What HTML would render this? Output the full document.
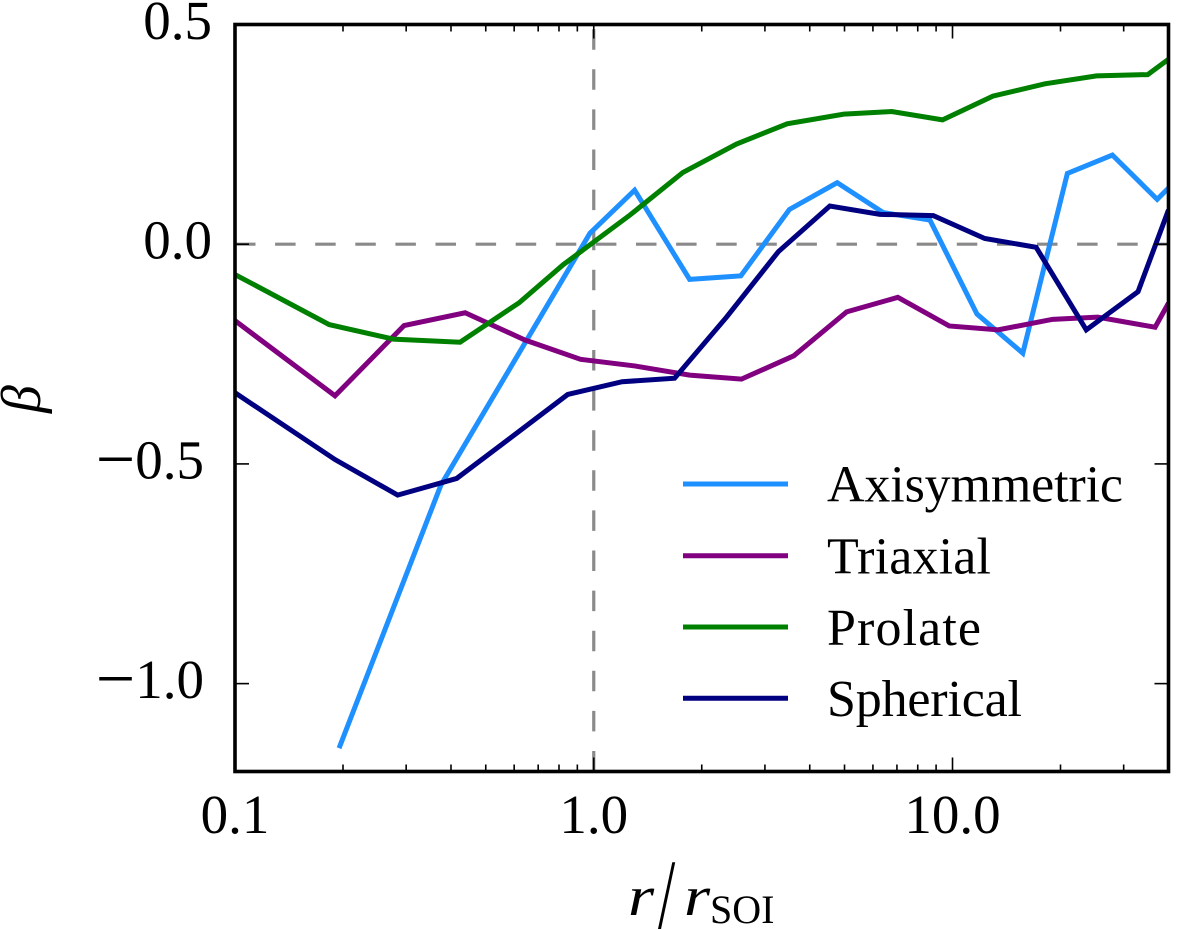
<!DOCTYPE html>
<html>
<head>
<meta charset="utf-8">
<title>Velocity anisotropy profile</title>
<style>
html,body{margin:0;padding:0;background:#fff;width:1200px;height:930px;overflow:hidden}
svg{display:block}
text{font-family:"Liberation Serif",serif;fill:#000}
</style>
</head>
<body>
<svg id="chart" xmlns="http://www.w3.org/2000/svg" width="1200" height="930" viewBox="0 0 1200 930"></svg>
<script>
const xMajorTicks = [0.1, 1, 10];
const xMajorLabels = ["0.1", "1.0", "10.0"];
const yTicks = [-1, -0.5, 0, 0.5];
const yLabels = ["1.0", "0.5", "0.0", "0.5"];
const xDomain = [0.1, 40];
const yDomain = [-1.2, 0.5];

const axisymmetricR = [0.195,0.375,0.976,1.30,1.85,2.57,3.51,4.77,6.41,8.65,11.7,15.7,20.9,27.9,37.2,40];
const axisymmetricBeta = [-1.147,-0.548,0.025,0.123,-0.080,-0.072,0.079,0.140,0.072,0.055,-0.159,-0.248,0.161,0.203,0.102,0.128];
const triaxialR = [0.1,0.190,0.296,0.438,0.643,0.919,1.30,1.85,2.58,3.61,5.07,7.04,9.79,13.4,19.0,25.4,36.7,40];
const triaxialBeta = [-0.174,-0.345,-0.185,-0.156,-0.218,-0.262,-0.277,-0.298,-0.307,-0.254,-0.154,-0.121,-0.186,-0.195,-0.171,-0.166,-0.189,-0.134];
const prolateR = [0.1,0.183,0.276,0.424,0.620,0.821,1.26,1.77,2.50,3.46,4.98,6.77,9.38,12.96,18.1,25.2,35.0,40];
const prolateBeta = [-0.069,-0.183,-0.216,-0.223,-0.133,-0.047,0.066,0.163,0.228,0.274,0.296,0.302,0.283,0.337,0.365,0.383,0.386,0.421];
const sphericalR = [0.1,0.190,0.284,0.415,0.610,0.846,1.20,1.68,2.35,3.27,4.55,6.28,8.84,12.3,17.1,23.6,32.9,40];
const sphericalBeta = [-0.338,-0.490,-0.571,-0.533,-0.430,-0.342,-0.313,-0.305,-0.165,-0.017,0.087,0.068,0.065,0.013,-0.007,-0.195,-0.108,0.078];

const NS = "http://www.w3.org/2000/svg";
const svg = document.getElementById("chart");
const plot = {left:235, right:1168.5, top:24.5, bottom:771.5};

function sx(v){
  const a = Math.log10(xDomain[0]), b = Math.log10(xDomain[1]);
  return plot.left + (Math.log10(v) - a) / (b - a) * (plot.right - plot.left);
}
function sy(v){
  return plot.bottom - (v - yDomain[0]) / (yDomain[1] - yDomain[0]) * (plot.bottom - plot.top);
}
function make(tag, attrs, parent){
  const el = document.createElementNS(NS, tag);
  for (const k in attrs) el.setAttribute(k, attrs[k]);
  (parent || svg).appendChild(el);
  return el;
}

/* clip */
const defs = make("defs", {});
const clip = make("clipPath", {id:"plot-clip"}, defs);
make("rect", {x:plot.left, y:plot.top, width:plot.right-plot.left, height:plot.bottom-plot.top}, clip);

/* reference lines */
const refH = make("line", {x1:plot.left, x2:plot.right, y1:sy(0), y2:sy(0), stroke:"#8a8a8a", "stroke-width":3.2, "stroke-dasharray":"20.5 19.6"});


const refV = make("line", {x1:sx(1), x2:sx(1), y1:plot.bottom, y2:plot.top, stroke:"#8a8a8a", "stroke-width":3.2, "stroke-dasharray":"20.5 19.6"});



/* series */
function drawSeries(rs, betas, color, name){
  const pts = rs.map((r, i) => sx(r).toFixed(2) + "," + sy(betas[i]).toFixed(2)).join(" ");
  const line = make("polyline", {points:pts, fill:"none", stroke:color, "stroke-width":5, "stroke-linejoin":"miter", "clip-path":"url(#plot-clip)"});
  
  
}
drawSeries(axisymmetricR, axisymmetricBeta, "#1e90ff", "axisymmetric-line");
drawSeries(triaxialR, triaxialBeta, "#800080", "triaxial-line");
drawSeries(prolateR, prolateBeta, "#008000", "prolate-line");
drawSeries(sphericalR, sphericalBeta, "#000080", "spherical-line");

/* ticks */
function xTick(v, len){
  const x = sx(v);
  const b = make("line", {x1:x, x2:x, y1:plot.bottom, y2:plot.bottom-len, stroke:"#000", "stroke-width":1.6});
  
  
  const t = make("line", {x1:x, x2:x, y1:plot.top, y2:plot.top+len, stroke:"#000", "stroke-width":1.6});
  
  
}
[0.1, 1, 10].forEach(decade => {
  for (let m = 1; m < 10; m++){
    const v = decade * m;
    if (v > xDomain[1] * 1.0001) break;
    xTick(v, m === 1 ? 14 : 7);
  }
});
yTicks.forEach(v => {
  const y = sy(v);
  const l = make("line", {x1:plot.left, x2:plot.left+14, y1:y, y2:y, stroke:"#000", "stroke-width":1.6});
  
  
  const r = make("line", {x1:plot.right, x2:plot.right-14, y1:y, y2:y, stroke:"#000", "stroke-width":1.6});
  
  
});

/* frame */
const frame = make("rect", {x:plot.left, y:plot.top, width:plot.right-plot.left, height:plot.bottom-plot.top, fill:"none", stroke:"#000", "stroke-width":3.6});



/* x tick labels */
xMajorTicks.forEach((v, i) => {
  const t = make("text", {x:sx(v), y:833, "font-size":55, "text-anchor":"middle"});
  t.textContent = xMajorLabels[i];
  
  
});

/* y tick labels */
yTicks.forEach((v, i) => {
  const neg = v < 0;
  const t = make("text", {x:neg ? 204 : 212, y:sy(v)+14.5, "font-size":55, "text-anchor":"end"});
  
  
  if (neg){
    const m = make("tspan", {dy:4, "font-size":70}, t);
    m.textContent = "\u2212";
    const d = make("tspan", {dy:-4}, t);
    d.textContent = yLabels[i];
  } else {
    t.textContent = yLabels[i];
  }
});
</script>

<svg xmlns="http://www.w3.org/2000/svg" width="1200" height="930" viewBox="0 0 1200 930" style="position:absolute;left:0;top:0">
  <text transform="translate(40,413) rotate(-90)" font-size="56" font-style="italic">β</text>
  <g>
    <text transform="translate(628,915) scale(1.2,1)" font-size="56" font-style="italic">r</text>
    <text transform="translate(658,928) scale(0.62,1)" font-size="100">/</text>
    <text transform="translate(684,915) scale(1.2,1)" font-size="56" font-style="italic">r</text>
    <text x="710" y="923" font-size="40">SOI</text>
  </g>
  <g>
    <line x1="683" x2="788" y1="484" y2="484" stroke="#1e90ff" stroke-width="5"/>
    <text x="827" y="501.7" font-size="52" textLength="296" lengthAdjust="spacing">Axisymmetric</text>
    <line x1="683" x2="788" y1="555.7" y2="555.7" stroke="#800080" stroke-width="5"/>
    <text x="827" y="573.3" font-size="52" textLength="164" lengthAdjust="spacing">Triaxial</text>
    <line x1="683" x2="788" y1="627" y2="627" stroke="#008000" stroke-width="5"/>
    <text x="827" y="645" font-size="52" textLength="154" lengthAdjust="spacing">Prolate</text>
    <line x1="683" x2="788" y1="698.3" y2="698.3" stroke="#000080" stroke-width="5"/>
    <text x="827" y="716" font-size="52" textLength="195" lengthAdjust="spacing">Spherical</text>
  </g>
</svg>
</body>
</html>
